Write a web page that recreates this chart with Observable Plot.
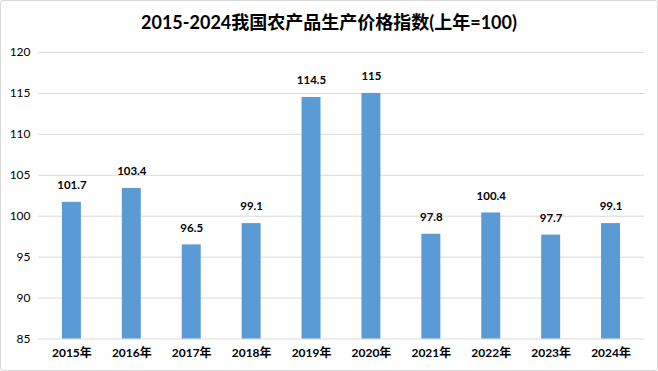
<!DOCTYPE html>
<html><head><meta charset="utf-8">
<script src="https://cdn.jsdelivr.net/npm/d3@7"></script>
<script src="https://cdn.jsdelivr.net/npm/@observablehq/plot@0.6"></script>
<style>
html,body{margin:0;padding:0;background:#fff;}
#wrap{width:658px;height:371px;box-sizing:border-box;border:1px solid #d9d9d9;border-radius:3px;position:relative;overflow:hidden;font-family:Lato,"Noto Sans CJK SC",sans-serif;}
#title{position:absolute;top:9px;left:0;width:100%;text-align:center;font-weight:bold;font-size:18px;color:#000;line-height:24px;}
#chart{position:absolute;top:40px;left:-1px;}
</style></head>
<body>
<div id="wrap"><div id="title">2015-2024我国农产品生产价格指数(上年=100)</div><div id="chart"></div></div>
<script>
const years = ["2015年","2016年","2017年","2018年","2019年","2020年","2021年","2022年","2023年","2024年"];
const values = [101.7,103.4,96.5,99.1,114.5,115,97.8,100.4,97.7,99.1];
const yTicks = [85,90,95,100,105,110,115,120];
const data = years.map((y,i)=>({year:y,value:values[i]}));
const plot = Plot.plot({
  width:658, height:330,
  marginLeft:38, marginRight:13, marginTop:11, marginBottom:32,
  style:{fontFamily:'Lato,"Noto Sans CJK SC",sans-serif',fontSize:"12px",color:"#000",background:"transparent"},
  x:{domain:years, paddingInner:0.69, paddingOuter:0.345, label:null},
  y:{domain:[85,120], label:null, ticks:yTicks},
  marks:[
    Plot.ruleY(yTicks,{stroke:"#d9d9d9",strokeWidth:1}),
    Plot.barY(data,{x:"year",y1:85,y2:"value",fill:"#5B9BD5"}),
    Plot.text(data,{x:"year",y:"value",text:d=>String(d.value),dy:-17,fontWeight:"bold",fontSize:11.5,fill:"#000"}),
    Plot.axisY({ticks:yTicks,tickSize:0,tickPadding:8,fontSize:12,label:null}),
    Plot.axisX({tickSize:0,tickPadding:9,fontWeight:"bold",fontSize:12,label:null})
  ]
});
document.getElementById("chart").appendChild(plot);
</script>
</body></html>
